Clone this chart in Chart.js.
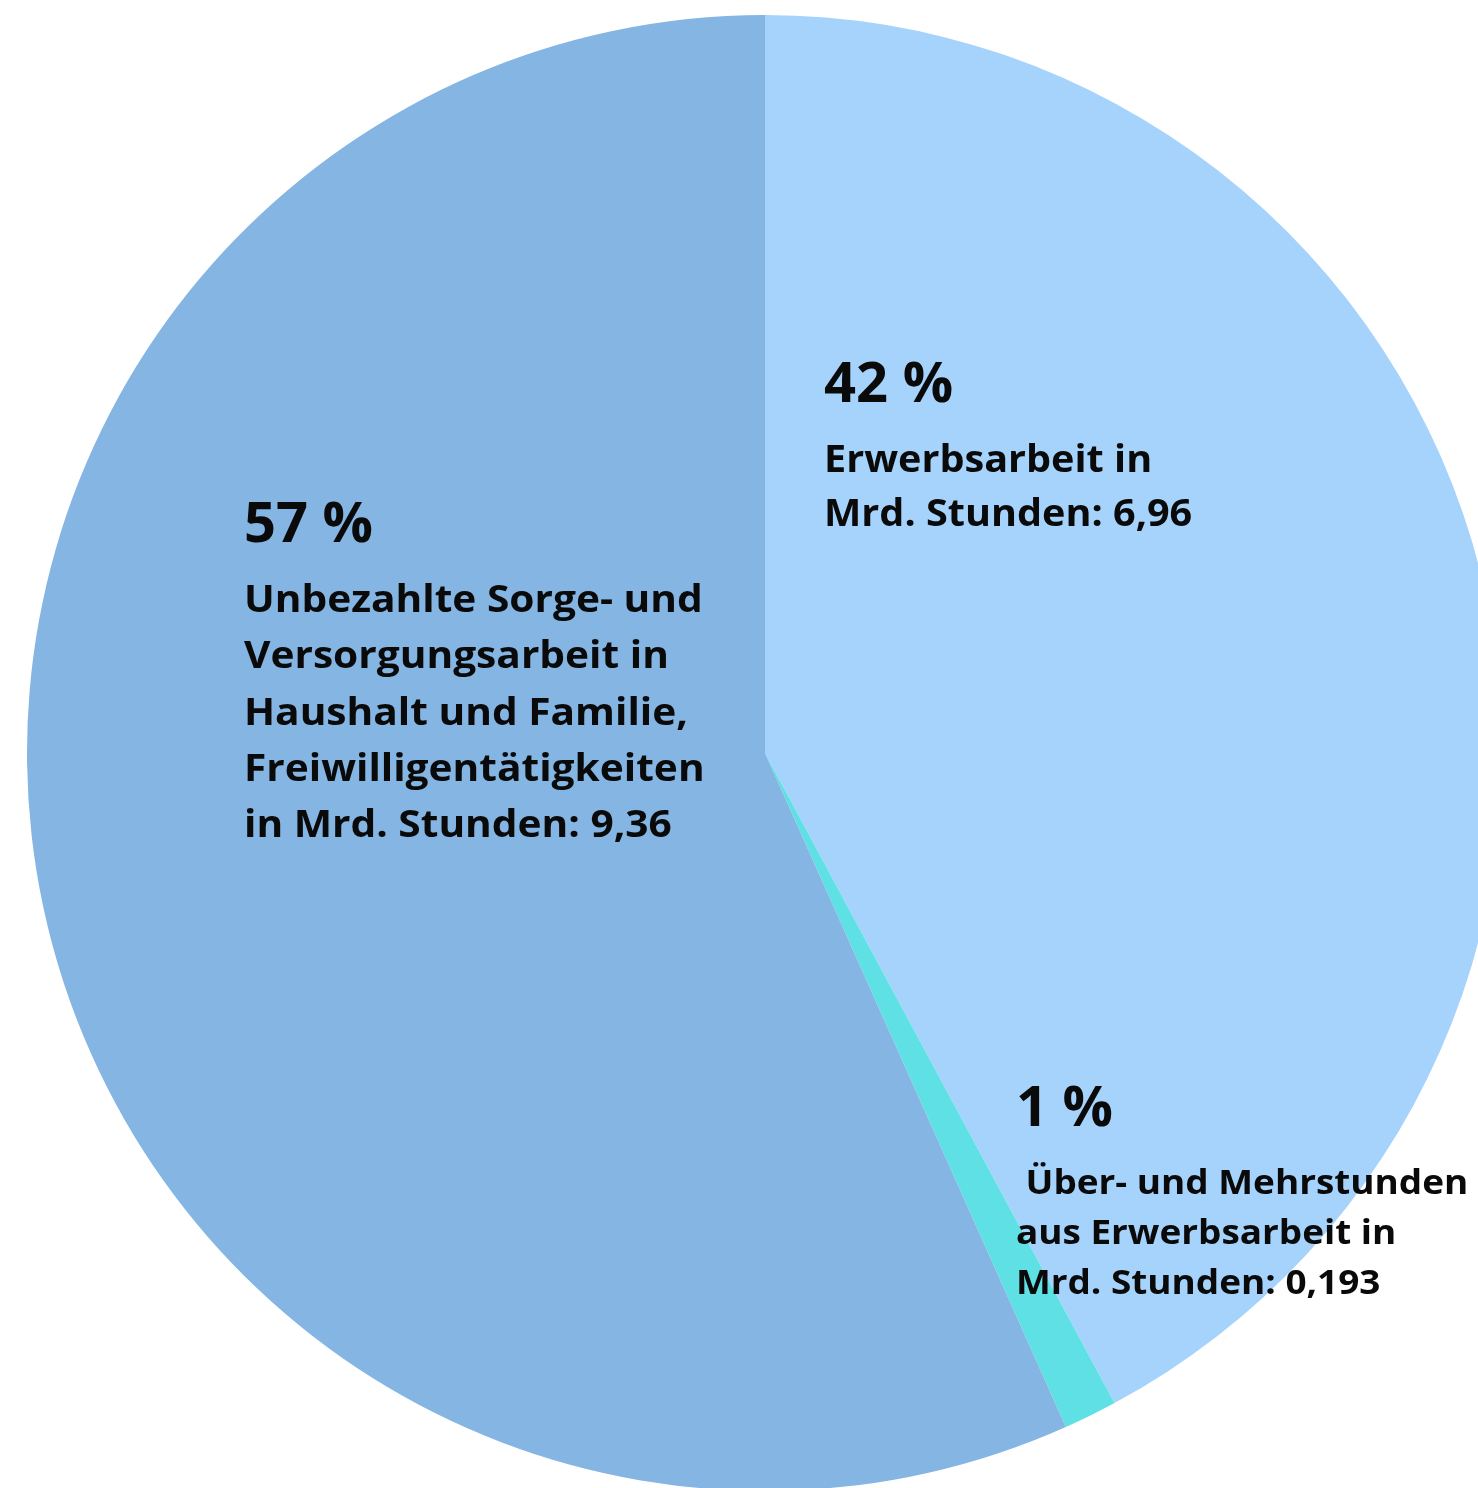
<!DOCTYPE html>
<html lang="de">
<head>
<meta charset="utf-8">
<title>Arbeitsstunden</title>
<script src="https://cdn.jsdelivr.net/npm/chart.js@4.4.1/dist/chart.umd.min.js"></script>
<style>
  html, body { margin: 0; padding: 0; background: #fff; overflow: hidden; }
  #wrap { width: 1478px; height: 1488px; overflow: hidden; position: relative; }
  canvas { position: absolute; left: 0; top: 0; }
</style>
</head>
<body>
<div id="wrap"><canvas id="pieChart" width="1530" height="1506"></canvas></div>
<script>
// Daten (Mrd. Stunden)
const kategorien = ['Erwerbsarbeit', 'Über- und Mehrstunden', 'Unbezahlte Sorge- und Versorgungsarbeit'];
const stunden = [6.96, 0.193, 9.36];
const prozente = ['42 %', '1 %', '57 %'];
const farben = ['#a6d3fc', '#5ee0e4', '#84b5e3'];

// Beschriftungstexte je Segment
const beschriftungen = [
    ['Erwerbsarbeit in', 'Mrd. Stunden: 6,96'],
    [' Über- und Mehrstunden', 'aus Erwerbsarbeit in', 'Mrd. Stunden: 0,193'],
    ['Unbezahlte Sorge- und', 'Versorgungsarbeit in', 'Haushalt und Familie,', 'Freiwilligentätigkeiten', 'in Mrd. Stunden: 9,36']
];

// Position der Textblöcke relativ zum Mittelpunkt (Anteil vom Radius)
const textPos = [
    { x: 0.08, y: -0.475, gap: 70, step: 53.5, size: 37 },
    { x: 0.34, y: 0.505, gap: 68, step: 50, size: 34.5 },
    { x: -0.706, y: -0.286, gap: 70, step: 56.3, size: 38 }
];

const labelPlugin = {
    id: 'labelPlugin',
    afterDraw(chart) {
        const ctx = chart.ctx;
        const arc = chart.getDatasetMeta(0).data[0];
        const cx = arc.x, cy = arc.y, r = arc.outerRadius;
        ctx.save();
        ctx.fillStyle = '#0a0a0a';
        ctx.textBaseline = 'alphabetic';
        ctx.textAlign = 'left';
        textPos.forEach((p, i) => {
            const x = cx + p.x * r;
            const y = cy + p.y * r;
            ctx.font = 'bold 56px "Open Sans", sans-serif';
            ctx.fillText(prozente[i], x, y);
            ctx.font = 'bold ' + p.size + 'px "Open Sans", sans-serif';
            beschriftungen[i].forEach((line, j) => {
                // Schrift etwas breiter ziehen
                ctx.save();
                ctx.translate(x, y + p.gap + j * p.step);
                ctx.scale(1.07, 1);
                ctx.fillText(line, 0, 0);
                ctx.restore();
            });
        });
        ctx.restore();
    }
};

new Chart(document.getElementById('pieChart'), {
    type: 'pie',
    data: {
        labels: kategorien,
        datasets: [{
            data: stunden,
            backgroundColor: farben,
            borderWidth: 0
        }]
    },
    options: {
        responsive: false,
        animation: false,
        layout: { padding: 15 },
        plugins: {
            legend: { display: false },
            tooltip: { enabled: false }
        }
    },
    plugins: [labelPlugin]
});
</script>
</body>
</html>
